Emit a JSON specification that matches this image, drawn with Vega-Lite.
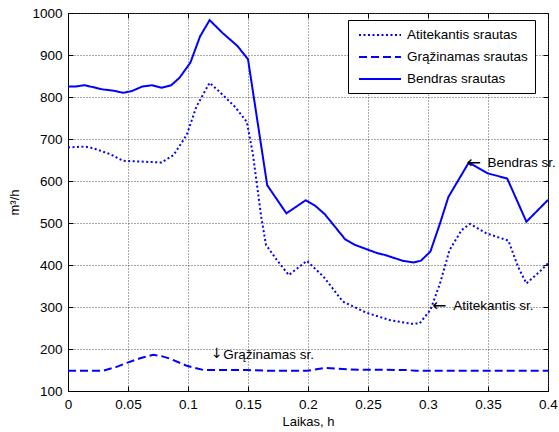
{
  "$schema": "https://vega.github.io/schema/vega-lite/v6.json",
  "autosize": "none",
  "width": 480,
  "height": 378,
  "padding": {"left": 68, "top": 13, "right": 11, "bottom": 41},
  "background": "white",
  "config": {
    "font": "Liberation Sans",
    "view": {"stroke": "black", "strokeWidth": 1},
    "axis": {
      "labelFont": "Liberation Sans",
      "titleFont": "Liberation Sans",
      "labelFontSize": 13.5,
      "titleFontSize": 13,
      "titleFontWeight": "normal",
      "labelColor": "black",
      "titleColor": "black",
      "domainColor": "black",
      "tickColor": "black",
      "gridColor": "#444",
      "gridDash": [1, 2],
      "gridOpacity": 0.9,
      "gridWidth": 1
    },
    "legend": {
      "labelFont": "Liberation Sans",
      "labelFontSize": 13.5
    }
  },
  "resolve": {"axis": {"x": "independent", "y": "independent"}},
  "datasets": {
    "flows": [
      {"t": 0, "v": 825, "s": "Bendras srautas"},
      {"t": 0.006, "v": 825, "s": "Bendras srautas"},
      {"t": 0.014, "v": 828, "s": "Bendras srautas"},
      {"t": 0.029, "v": 818, "s": "Bendras srautas"},
      {"t": 0.038, "v": 815, "s": "Bendras srautas"},
      {"t": 0.046, "v": 810, "s": "Bendras srautas"},
      {"t": 0.053, "v": 814, "s": "Bendras srautas"},
      {"t": 0.062, "v": 825, "s": "Bendras srautas"},
      {"t": 0.070, "v": 828, "s": "Bendras srautas"},
      {"t": 0.078, "v": 822, "s": "Bendras srautas"},
      {"t": 0.086, "v": 828, "s": "Bendras srautas"},
      {"t": 0.093, "v": 846, "s": "Bendras srautas"},
      {"t": 0.102, "v": 882, "s": "Bendras srautas"},
      {"t": 0.110, "v": 944, "s": "Bendras srautas"},
      {"t": 0.118, "v": 983, "s": "Bendras srautas"},
      {"t": 0.129, "v": 952, "s": "Bendras srautas"},
      {"t": 0.141, "v": 922, "s": "Bendras srautas"},
      {"t": 0.150, "v": 890, "s": "Bendras srautas"},
      {"t": 0.166, "v": 590, "s": "Bendras srautas"},
      {"t": 0.182, "v": 523, "s": "Bendras srautas"},
      {"t": 0.198, "v": 554, "s": "Bendras srautas"},
      {"t": 0.206, "v": 541, "s": "Bendras srautas"},
      {"t": 0.214, "v": 521, "s": "Bendras srautas"},
      {"t": 0.231, "v": 461, "s": "Bendras srautas"},
      {"t": 0.239, "v": 448, "s": "Bendras srautas"},
      {"t": 0.257, "v": 429, "s": "Bendras srautas"},
      {"t": 0.264, "v": 424, "s": "Bendras srautas"},
      {"t": 0.279, "v": 410, "s": "Bendras srautas"},
      {"t": 0.288, "v": 406, "s": "Bendras srautas"},
      {"t": 0.294, "v": 410, "s": "Bendras srautas"},
      {"t": 0.302, "v": 432, "s": "Bendras srautas"},
      {"t": 0.310, "v": 499, "s": "Bendras srautas"},
      {"t": 0.317, "v": 562, "s": "Bendras srautas"},
      {"t": 0.334, "v": 644, "s": "Bendras srautas"},
      {"t": 0.350, "v": 618, "s": "Bendras srautas"},
      {"t": 0.366, "v": 606, "s": "Bendras srautas"},
      {"t": 0.382, "v": 503, "s": "Bendras srautas"},
      {"t": 0.400, "v": 555, "s": "Bendras srautas"},

      {"t": 0, "v": 680, "s": "Atitekantis srautas"},
      {"t": 0.014, "v": 682, "s": "Atitekantis srautas"},
      {"t": 0.021, "v": 678, "s": "Atitekantis srautas"},
      {"t": 0.035, "v": 664, "s": "Atitekantis srautas"},
      {"t": 0.046, "v": 648, "s": "Atitekantis srautas"},
      {"t": 0.063, "v": 646, "s": "Atitekantis srautas"},
      {"t": 0.078, "v": 644, "s": "Atitekantis srautas"},
      {"t": 0.088, "v": 662, "s": "Atitekantis srautas"},
      {"t": 0.099, "v": 710, "s": "Atitekantis srautas"},
      {"t": 0.107, "v": 777, "s": "Atitekantis srautas"},
      {"t": 0.118, "v": 834, "s": "Atitekantis srautas"},
      {"t": 0.129, "v": 805, "s": "Atitekantis srautas"},
      {"t": 0.139, "v": 777, "s": "Atitekantis srautas"},
      {"t": 0.149, "v": 741, "s": "Atitekantis srautas"},
      {"t": 0.154, "v": 666, "s": "Atitekantis srautas"},
      {"t": 0.161, "v": 515, "s": "Atitekantis srautas"},
      {"t": 0.165, "v": 448, "s": "Atitekantis srautas"},
      {"t": 0.174, "v": 412, "s": "Atitekantis srautas"},
      {"t": 0.184, "v": 376, "s": "Atitekantis srautas"},
      {"t": 0.199, "v": 410, "s": "Atitekantis srautas"},
      {"t": 0.213, "v": 372, "s": "Atitekantis srautas"},
      {"t": 0.229, "v": 313, "s": "Atitekantis srautas"},
      {"t": 0.249, "v": 286, "s": "Atitekantis srautas"},
      {"t": 0.268, "v": 269, "s": "Atitekantis srautas"},
      {"t": 0.286, "v": 260, "s": "Atitekantis srautas"},
      {"t": 0.293, "v": 261, "s": "Atitekantis srautas"},
      {"t": 0.302, "v": 293, "s": "Atitekantis srautas"},
      {"t": 0.310, "v": 356, "s": "Atitekantis srautas"},
      {"t": 0.318, "v": 436, "s": "Atitekantis srautas"},
      {"t": 0.328, "v": 483, "s": "Atitekantis srautas"},
      {"t": 0.335, "v": 498, "s": "Atitekantis srautas"},
      {"t": 0.349, "v": 475, "s": "Atitekantis srautas"},
      {"t": 0.367, "v": 458, "s": "Atitekantis srautas"},
      {"t": 0.375, "v": 396, "s": "Atitekantis srautas"},
      {"t": 0.382, "v": 356, "s": "Atitekantis srautas"},
      {"t": 0.393, "v": 384, "s": "Atitekantis srautas"},
      {"t": 0.400, "v": 404, "s": "Atitekantis srautas"},

      {"t": 0, "v": 148, "s": "Grąžinamas srautas"},
      {"t": 0.029, "v": 148, "s": "Grąžinamas srautas"},
      {"t": 0.040, "v": 157, "s": "Grąžinamas srautas"},
      {"t": 0.049, "v": 167, "s": "Grąžinamas srautas"},
      {"t": 0.060, "v": 178, "s": "Grąžinamas srautas"},
      {"t": 0.071, "v": 186, "s": "Grąžinamas srautas"},
      {"t": 0.078, "v": 183, "s": "Grąžinamas srautas"},
      {"t": 0.085, "v": 177, "s": "Grąžinamas srautas"},
      {"t": 0.099, "v": 160, "s": "Grąžinamas srautas"},
      {"t": 0.113, "v": 150, "s": "Grąžinamas srautas"},
      {"t": 0.149, "v": 150, "s": "Grąžinamas srautas"},
      {"t": 0.171, "v": 148, "s": "Grąžinamas srautas"},
      {"t": 0.199, "v": 148, "s": "Grąžinamas srautas"},
      {"t": 0.214, "v": 155, "s": "Grąžinamas srautas"},
      {"t": 0.235, "v": 151, "s": "Grąžinamas srautas"},
      {"t": 0.282, "v": 150, "s": "Grąžinamas srautas"},
      {"t": 0.290, "v": 148, "s": "Grąžinamas srautas"},
      {"t": 0.400, "v": 148, "s": "Grąžinamas srautas"}
    ],
    "arrows": [
      {"t": 0.3322, "v": 644, "glyph": "←"},
      {"t": 0.3035, "v": 303, "glyph": "←"}
    ],
    "downarrow": [
      {"t": 0.1192, "v": 188, "glyph": "↓"}
    ],
    "notes": [
      {"t": 0.3495, "v": 643, "label": "Bendras sr."},
      {"t": 0.3210, "v": 302, "label": "Atitekantis sr."},
      {"t": 0.1293, "v": 186, "label": "Grąžinamas sr."}
    ]
  },
  "layer": [
    {
      "data": {"name": "flows"},
      "mark": {"type": "line", "color": "#0000ff", "strokeWidth": 2, "clip": true},
      "encoding": {
        "x": {
          "field": "t", "type": "quantitative",
          "scale": {"domain": [0, 0.4], "nice": false, "zero": false},
          "axis": {
            "title": "Laikas, h",
            "grid": true,
            "values": [0, 0.05, 0.1, 0.15, 0.2, 0.25, 0.3, 0.35, 0.4],
            "format": "~g",
            "labelPadding": 11,
            "tickSize": -5,
            "titlePadding": 5,
            "labelFlush": false
          }
        },
        "y": {
          "field": "v", "type": "quantitative",
          "scale": {"domain": [100, 1000], "nice": false, "zero": false},
          "axis": {
            "title": "m³/h",
            "grid": true,
            "format": "d",
            "values": [100, 200, 300, 400, 500, 600, 700, 800, 900, 1000],
            "labelPadding": 11,
            "tickSize": -5,
            "titlePadding": 10,
            "labelFlush": false
          }
        },
        "strokeDash": {
          "field": "s", "type": "nominal",
          "scale": {
            "domain": ["Atitekantis srautas", "Grąžinamas srautas", "Bendras srautas"],
            "range": [[2, 2.5], [8, 4], [1, 0]]
          },
          "legend": {
            "title": null,
            "orient": "none",
            "legendX": 280,
            "legendY": 7,
            "symbolType": "M-3,0H3",
            "symbolSize": 196,
            "symbolStrokeWidth": 2,
            "symbolStrokeColor": "#0000ff",
            "symbolOffset": 17,
            "labelOffset": 19,
            "rowPadding": 7,
            "padding": 7,
            "strokeColor": "black",
            "fillColor": "white",
            "labelLimit": 300
          }
        }
      }
    },
    {
      "data": {"name": "arrows"},
      "mark": {"type": "text", "align": "left", "baseline": "middle", "fontSize": 17, "font": "DejaVu Sans", "color": "black"},
      "encoding": {
        "x": {"field": "t", "type": "quantitative", "axis": {"orient": "top", "labels": false, "title": null, "grid": false, "domain": false, "tickSize": -5, "values": [0, 0.05, 0.1, 0.15, 0.2, 0.25, 0.3, 0.35, 0.4]}},
        "y": {"field": "v", "type": "quantitative", "axis": {"orient": "right", "labels": false, "title": null, "grid": false, "domain": false, "tickSize": -5, "values": [100, 200, 300, 400, 500, 600, 700, 800, 900, 1000]}},
        "text": {"field": "glyph"}
      }
    },
    {
      "data": {"name": "downarrow"},
      "mark": {"type": "text", "align": "left", "baseline": "middle", "fontSize": 14, "font": "DejaVu Sans", "color": "black"},
      "encoding": {
        "x": {"field": "t", "type": "quantitative", "axis": null},
        "y": {"field": "v", "type": "quantitative", "axis": null},
        "text": {"field": "glyph"}
      }
    },
    {
      "data": {"name": "notes"},
      "mark": {"type": "text", "align": "left", "baseline": "middle", "fontSize": 13.5, "font": "Liberation Sans", "color": "black"},
      "encoding": {
        "x": {"field": "t", "type": "quantitative", "axis": null},
        "y": {"field": "v", "type": "quantitative", "axis": null},
        "text": {"field": "label"}
      }
    }
  ]
}
